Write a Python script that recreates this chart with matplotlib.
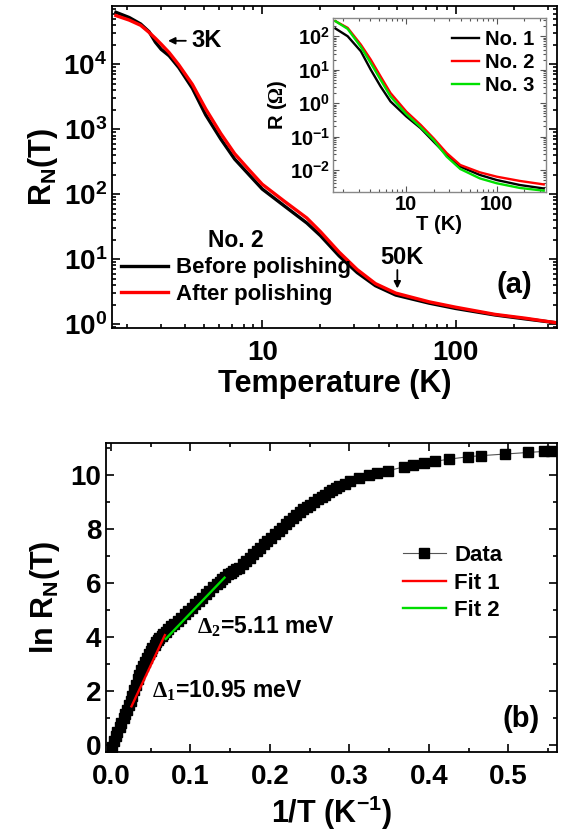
import matplotlib

matplotlib.use("Agg")
import matplotlib.pyplot as plt
from matplotlib.ticker import MultipleLocator, LogLocator, NullFormatter, FuncFormatter

plt.rcParams["font.family"] = ["Liberation Sans", "DejaVu Sans"]
plt.rcParams["font.weight"] = "bold"
plt.rcParams["axes.labelweight"] = "bold"
plt.rcParams["mathtext.fontset"] = "custom"
plt.rcParams["mathtext.rm"] = "Liberation Sans:bold"
plt.rcParams["mathtext.it"] = "Liberation Sans:bold"
plt.rcParams["mathtext.bf"] = "Liberation Sans:bold"
plt.rcParams["mathtext.sf"] = "Liberation Serif"

# ---- panel (a): normalized resistance, sample No. 2
T_main = [1.75, 2.05, 2.35, 2.6, 2.8, 3.0, 3.3, 3.7, 4.35, 5.1, 6.1, 7.2, 8.6, 10,
          13, 17, 20, 25, 31, 38.5, 49, 73, 100, 160, 230, 330]
R_before = [63100, 52500, 41700, 31600, 21900, 17000, 13500, 8900, 4270, 1660, 708,
            347, 195, 120, 66, 36, 23, 11.2, 6.2, 3.9, 2.8, 2.1, 1.74, 1.38, 1.2, 1.05]
R_after = [56200, 47900, 39800, 30900, 25100, 20400, 15100, 9800, 4900, 2050, 860,
           420, 232, 142, 78, 43, 26.5, 12.8, 6.9, 4.2, 3.0, 2.2, 1.82, 1.41, 1.23, 1.05]

# ---- inset: R(T) of three samples
T_inset = [1.65, 2.25, 3.15, 4.05, 5.2, 6.7, 10, 14.4, 20, 28, 39.5, 65, 100, 180, 330]
R_no1 = [170, 100, 35.5, 10, 3.16, 1.12, 0.40, 0.178, 0.071, 0.028, 0.0126, 0.0071,
         0.0050, 0.00355, 0.0028]
R_no2 = [282, 178, 56, 20, 6.3, 2.0, 0.56, 0.224, 0.089, 0.032, 0.0141, 0.0085,
         0.0063, 0.0047, 0.0037]
R_no3 = [282, 166, 48, 15.8, 5.0, 1.58, 0.47, 0.19, 0.079, 0.025, 0.0107, 0.0056,
         0.0040, 0.0029, 0.0024]

# ---- panel (b): ln R_N vs 1/T
inv_T = [0.002, 0.004, 0.006, 0.008, 0.011, 0.013, 0.016, 0.018, 0.020, 0.023, 0.025,
         0.027, 0.029, 0.032, 0.034, 0.036, 0.038, 0.041, 0.043, 0.046, 0.048, 0.050,
         0.052, 0.055, 0.057, 0.059, 0.061, 0.064, 0.066, 0.069, 0.072, 0.076, 0.079,
         0.084, 0.088, 0.093, 0.097, 0.102, 0.106, 0.111, 0.115, 0.120, 0.124, 0.129,
         0.133, 0.137, 0.140, 0.144, 0.147, 0.151, 0.154, 0.158, 0.161, 0.166, 0.170,
         0.175, 0.179, 0.184, 0.188, 0.193, 0.197, 0.202, 0.206, 0.211, 0.215, 0.220,
         0.224, 0.229, 0.233, 0.238, 0.242, 0.247, 0.251, 0.256, 0.260, 0.265, 0.269,
         0.274, 0.278, 0.283, 0.287, 0.294, 0.301, 0.312, 0.324, 0.335, 0.348, 0.368,
         0.380, 0.394, 0.407, 0.425, 0.449, 0.465, 0.495, 0.525, 0.545, 0.553]
ln_R = [-0.05, 0.15, 0.35, 0.50, 0.68, 0.84, 1.00, 1.15, 1.29, 1.48, 1.65, 1.84, 2.03,
        2.24, 2.45, 2.61, 2.77, 2.94, 3.10, 3.24, 3.38, 3.49, 3.60, 3.71, 3.81, 3.89,
        3.97, 4.05, 4.12, 4.21, 4.30, 4.40, 4.49, 4.61, 4.73, 4.86, 4.98, 5.10, 5.22,
        5.35, 5.47, 5.60, 5.72, 5.85, 5.97, 6.06, 6.15, 6.24, 6.33, 6.40, 6.46, 6.52,
        6.58, 6.71, 6.83, 6.95, 7.07, 7.20, 7.32, 7.44, 7.56, 7.69, 7.81, 7.94, 8.06,
        8.19, 8.31, 8.43, 8.55, 8.65, 8.74, 8.83, 8.92, 9.02, 9.11, 9.20, 9.29, 9.37,
        9.45, 9.52, 9.59, 9.69, 9.78, 9.90, 10.00, 10.09, 10.17, 10.31, 10.39, 10.46,
        10.52, 10.60, 10.69, 10.73, 10.79, 10.85, 10.89, 10.91]
fit1_x = [0.026, 0.068]
fit1_y = [1.44, 4.08]
fit2_x = [0.069, 0.143]
fit2_y = [3.94, 6.21]

plain = FuncFormatter(lambda v, pos: f"{v:g}")


def log_axis(a):
    a.set_xscale("log")
    a.set_yscale("log")
    a.xaxis.set_major_formatter(plain)
    a.xaxis.set_minor_formatter(NullFormatter())
    a.yaxis.set_major_locator(LogLocator(base=10, numticks=10))
    a.yaxis.set_minor_locator(LogLocator(base=10, subs=range(2, 10), numticks=20))
    a.yaxis.set_minor_formatter(NullFormatter())


fig = plt.figure(figsize=(5.64, 8.31), dpi=100)

# panel (a)
ax = fig.add_axes([0.1986, 0.6053, 0.789, 0.3875])
ax.plot(T_main, R_before, color="black", lw=2.4, label="Before polishing")
ax.plot(T_main, R_after, color="red", lw=2.4, label="After polishing")
log_axis(ax)
ax.set_xlim(1.67, 335)
ax.set_ylim(0.87, 7.9e4)
ax.tick_params(which="both", direction="in", top=True, right=True, width=1.2)
ax.tick_params(which="major", length=6, labelsize=20)
ax.tick_params(axis="x", which="major", pad=9)
ax.tick_params(which="minor", length=3)
for s in ax.spines.values():
    s.set_linewidth(1.3)
ax.set_xlabel("Temperature (K)", fontsize=22, labelpad=2)
ax.set_ylabel(r"R$_{\rm N}$(T)", fontsize=22, labelpad=2)
leg = ax.legend(loc="lower left", bbox_to_anchor=(-0.01, 0.03), frameon=False,
                fontsize=16, title="No. 2", handlelength=2.1, handletextpad=0.4,
                labelspacing=0.25, borderaxespad=0.2)
leg.get_title().set_fontsize(16.5)
leg.get_title().set_fontweight("bold")
ax.text(0.905, 0.134, "(a)", transform=ax.transAxes, fontsize=21, ha="center", va="center")
ax.annotate("3K", xy=(3.15, 2.3e4), xytext=(4.3, 2.3e4), fontsize=17, va="center",
            arrowprops=dict(arrowstyle="-|>", color="black", lw=1.3, mutation_scale=10))
ax.annotate("", xy=(50, 3.2), xytext=(50, 7.5),
            arrowprops=dict(arrowstyle="-|>", color="black", lw=1.3, mutation_scale=10))
ax.text(53, 10.5, "50K", fontsize=17, ha="center", va="center")

# inset
ins = fig.add_axes([0.5904, 0.769, 0.3777, 0.2093])
ins.plot(T_inset, R_no1, color="black", lw=1.7, label="No. 1")
ins.plot(T_inset, R_no2, color="red", lw=1.7, label="No. 2")
ins.plot(T_inset, R_no3, color="#00e000", lw=1.7, label="No. 3")
log_axis(ins)
ins.set_xlim(1.55, 350)
ins.set_ylim(0.0022, 350)
ins.tick_params(which="both", direction="in", top=True, right=True, width=0.8,
                colors="#555555", labelcolor="black")
ins.tick_params(which="major", length=4, labelsize=14.5, pad=2)
ins.tick_params(which="minor", length=2)
for s in ins.spines.values():
    s.set_linewidth(1.0)
    s.set_color("#888888")
ins.set_xlabel("T (K)", fontsize=14.5, labelpad=1)
ins.set_ylabel(r"R ($\mathsf{\Omega}$)", fontsize=14.5, labelpad=1)
ins.legend(loc="upper right", frameon=False, fontsize=14.5, handlelength=1.3,
           handletextpad=0.3, labelspacing=0.2, borderaxespad=0.2)

# panel (b)
bx = fig.add_axes([0.188, 0.0951, 0.7996, 0.3718])
bx.plot(inv_T, ln_R, color="#555555", lw=0.8, marker="s", markersize=7.2,
        markerfacecolor="black", markeredgecolor="black", label="Data")
bx.plot(fit1_x, fit1_y, color="red", lw=1.7, label="Fit 1")
bx.plot(fit2_x, fit2_y, color="#00dd00", lw=1.7, label="Fit 2")
bx.set_xlim(-0.006, 0.561)
bx.set_ylim(-0.25, 11.2)
bx.xaxis.set_major_locator(MultipleLocator(0.1))
bx.xaxis.set_minor_locator(MultipleLocator(0.05))
bx.yaxis.set_major_locator(MultipleLocator(2))
bx.yaxis.set_minor_locator(MultipleLocator(1))
bx.tick_params(which="both", direction="in", top=True, right=True, width=1.2)
bx.tick_params(which="major", length=6, labelsize=20)
bx.tick_params(axis="x", which="major", pad=9)
bx.tick_params(which="minor", length=3)
for s in bx.spines.values():
    s.set_linewidth(1.3)
bx.set_xlabel(r"1/T (K$^{-1}$)", fontsize=22, labelpad=2)
bx.set_ylabel(r"ln R$_{\rm N}$(T)", fontsize=22, labelpad=6)
bx.legend(loc="upper left", bbox_to_anchor=(0.615, 0.735), frameon=False, fontsize=16,
          handlelength=1.9, handletextpad=0.4, labelspacing=0.3)
bx.text(0.109, 4.37, r"$\mathsf{\Delta_2}$=5.11 meV", fontsize=16.5, va="center")
bx.text(0.052, 2.03, r"$\mathsf{\Delta_1}$=10.95 meV", fontsize=16.5, va="center")
bx.text(0.92, 0.107, "(b)", transform=bx.transAxes, fontsize=21, ha="center", va="center")

fig.savefig("out.png", dpi=100)
plt.close(fig)
